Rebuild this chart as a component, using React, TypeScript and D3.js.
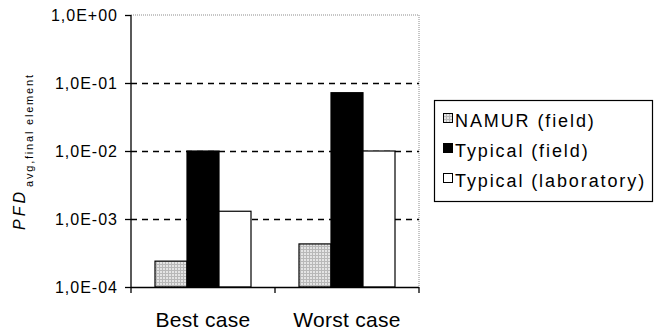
// Grouped bar chart on a log axis: PFD avg for best/worst case, three scenarios
import React from "react"
import * as d3 from "d3"

const categories = ["Best case", "Worst case"]
const series = ["NAMUR (field)", "Typical (field)", "Typical (laboratory)"]
const namurValues = [2.4e-4, 4.3e-4]
const typicalFieldValues = [1.0e-2, 7.2e-2]
const typicalLabValues = [1.3e-3, 1.0e-2]
const tickValues = [1e-4, 1e-3, 1e-2, 1e-1, 1]

const seriesValues = [namurValues, typicalFieldValues, typicalLabValues]
const fills = ["url(#namurPattern)", "#000", "#fff"]

const width = 661
const height = 332
const margin = { top: 15, left: 131, right: 242, bottom: 45 }
const font = "'Liberation Sans', Arial, sans-serif"

// 1e-2 -> "1,0E-02"
function formatTick(v: number) {
  const exp = Math.round(Math.log10(v))
  const sign = exp >= 0 ? "+" : "-"
  return "1,0E" + sign + String(Math.abs(exp)).padStart(2, "0")
}

export default function App() {
  const plotW = width - margin.left - margin.right
  const bottom = height - margin.bottom

  const y = d3.scaleLog().domain([1e-4, 1]).range([bottom, margin.top])
  const x0 = d3
    .scaleBand()
    .domain(categories)
    .range([margin.left, margin.left + plotW])
  const x1 = d3
    .scaleBand()
    .domain(series)
    .range([0, x0.bandwidth()])
    .paddingOuter(0.75)

  const right = margin.left + plotW

  return (
    <svg
      width={width}
      height={height}
      style={{ position: "absolute", left: 0, top: 0, background: "#fff" }}
    >
      <defs>
        <pattern id="namurPattern" width={3} height={3} patternUnits="userSpaceOnUse">
          <rect width={3} height={3} fill="#e4e4e4" />
          <rect width={3} height={1} fill="#b8b8b8" />
          <rect width={1} height={3} fill="#b8b8b8" />
        </pattern>
      </defs>

      {/* plot frame, top & right in gray dots */}
      <line x1={margin.left} x2={right} y1={margin.top} y2={margin.top} stroke="#8c8c8c" strokeDasharray="1 1" />
      <line x1={right} x2={right} y1={margin.top} y2={bottom} stroke="#8c8c8c" strokeDasharray="1 1" />

      {/* dashed gridlines */}
      {tickValues.slice(1, -1).map(t => (
        <line
          key={t}
          x1={margin.left}
          x2={right}
          y1={Math.round(y(t)) + 0.5}
          y2={Math.round(y(t)) + 0.5}
          stroke="#000"
          strokeWidth={1.3}
          strokeDasharray="6 5"
        />
      ))}

      {/* bars */}
      {categories.map((c, ci) =>
        series.map((s, si) => {
          const v = seriesValues[si][ci]
          const bx = (x0(c) as number) + (x1(s) as number)
          return (
            <rect
              key={c + s}
              x={bx}
              y={y(v)}
              width={x1.bandwidth()}
              height={bottom - y(v)}
              fill={fills[si]}
              stroke="#000"
              strokeWidth={1.2}
            />
          )
        })
      )}

      {/* y axis */}
      <line x1={margin.left} x2={margin.left} y1={margin.top} y2={bottom} stroke="#000" strokeWidth={1.3} />
      {tickValues.map(t => (
        <g key={t} transform={`translate(0,${Math.round(y(t)) + 0.5})`}>
          <line x1={margin.left - 6} x2={margin.left} stroke="#000" strokeWidth={1.3} />
          <text
            x={118}
            dy="0.36em"
            textAnchor="end"
            fontFamily={font}
            fontSize={16}
            letterSpacing={1}
            fill="#000"
          >
            {formatTick(t)}
          </text>
        </g>
      ))}

      {/* x axis */}
      <line x1={margin.left} x2={right} y1={bottom + 0.5} y2={bottom + 0.5} stroke="#000" strokeWidth={1.3} />
      {[margin.left, ...categories.map(c => (x0(c) as number) + x0.bandwidth())].map(px => (
        <line key={px} x1={px} x2={px} y1={bottom} y2={bottom + 6} stroke="#000" strokeWidth={1.3} />
      ))}
      {categories.map(c => (
        <text
          key={c}
          x={(x0(c) as number) + x0.bandwidth() / 2}
          y={327}
          textAnchor="middle"
          fontFamily={font}
          fontSize={21}
          letterSpacing={0.3}
          fill="#000"
        >
          {c}
        </text>
      ))}

      {/* y axis title */}
      <text transform="translate(25,230) rotate(-90)" fontFamily={font} fill="#000">
        <tspan fontSize={16} fontStyle="italic" letterSpacing={3}>PFD</tspan>
        <tspan fontSize={11} dx={2} dy={8} letterSpacing={1.8}>avg,final element</tspan>
      </text>

      {/* legend */}
      <rect x={434.5} y={100.5} width={218} height={101} fill="#fff" stroke="#000" strokeWidth={1.2} />
      {series.map((s, si) => (
        <g key={s} transform={`translate(443,${113 + si * 30})`}>
          <rect x={0.5} y={0.5} width={9} height={9} fill={fills[si]} stroke="#000" strokeWidth={1} />
          <text x={12} y={14} fontFamily={font} fontSize={18} letterSpacing={1.9} fill="#000">
            {s}
          </text>
        </g>
      ))}
    </svg>
  )
}
